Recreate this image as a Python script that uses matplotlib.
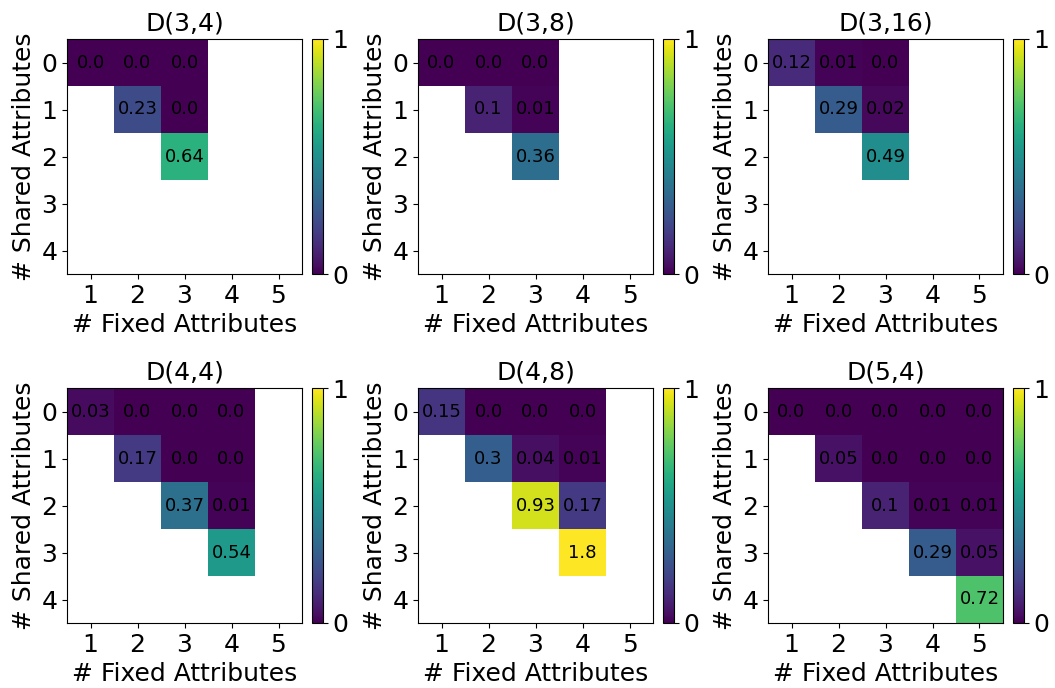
import numpy as np
import matplotlib
matplotlib.use('Agg')
import matplotlib.pyplot as plt

nan = np.nan

titles = ['D(3,4)', 'D(3,8)', 'D(3,16)', 'D(4,4)', 'D(4,8)', 'D(5,4)']
fixed_labels = [1, 2, 3, 4, 5]
shared_labels = [0, 1, 2, 3, 4]

# rows = # shared attributes (0..4), cols = # fixed attributes (1..5)
d_3_4 = [[0.0, 0.0, 0.0, nan, nan],
         [nan, 0.23, 0.0, nan, nan],
         [nan, nan, 0.64, nan, nan],
         [nan, nan, nan, nan, nan],
         [nan, nan, nan, nan, nan]]

d_3_8 = [[0.0, 0.0, 0.0, nan, nan],
         [nan, 0.1, 0.01, nan, nan],
         [nan, nan, 0.36, nan, nan],
         [nan, nan, nan, nan, nan],
         [nan, nan, nan, nan, nan]]

d_3_16 = [[0.12, 0.01, 0.0, nan, nan],
          [nan, 0.29, 0.02, nan, nan],
          [nan, nan, 0.49, nan, nan],
          [nan, nan, nan, nan, nan],
          [nan, nan, nan, nan, nan]]

d_4_4 = [[0.03, 0.0, 0.0, 0.0, nan],
         [nan, 0.17, 0.0, 0.0, nan],
         [nan, nan, 0.37, 0.01, nan],
         [nan, nan, nan, 0.54, nan],
         [nan, nan, nan, nan, nan]]

d_4_8 = [[0.15, 0.0, 0.0, 0.0, nan],
         [nan, 0.3, 0.04, 0.01, nan],
         [nan, nan, 0.93, 0.17, nan],
         [nan, nan, nan, 1.8, nan],
         [nan, nan, nan, nan, nan]]

d_5_4 = [[0.0, 0.0, 0.0, 0.0, 0.0],
         [nan, 0.05, 0.0, 0.0, 0.0],
         [nan, nan, 0.1, 0.01, 0.01],
         [nan, nan, nan, 0.29, 0.05],
         [nan, nan, nan, nan, 0.72]]

grids = [d_3_4, d_3_8, d_3_16, d_4_4, d_4_8, d_5_4]

W, H = 1055, 688
fig = plt.figure(figsize=(W / 100, H / 100), dpi=100)

lefts = [67, 418, 768]
tops = [39, 388]
ax_w, ax_h = 235, 235
cb_gap, cb_w = 10, 11

for i, (grid, title) in enumerate(zip(grids, titles)):
    r, c = divmod(i, 3)
    l, t = lefts[c], tops[r]
    ax = fig.add_axes([l / W, 1 - (t + ax_h) / H, ax_w / W, ax_h / H])
    cax = fig.add_axes([(l + ax_w + cb_gap) / W, 1 - (t + ax_h) / H, cb_w / W, ax_h / H])
    data = np.array(grid, dtype=float)
    im = ax.imshow(data, cmap='viridis', vmin=0, vmax=1, aspect='auto')
    for y in range(data.shape[0]):
        for x in range(data.shape[1]):
            if not np.isnan(data[y, x]):
                ax.text(x, y, str(data[y, x]), ha='center', va='center',
                        fontsize=13, color='black')
    ax.set_xticks(range(5))
    ax.set_xticklabels(fixed_labels)
    ax.set_yticks(range(5))
    ax.set_yticklabels(shared_labels)
    ax.tick_params(labelsize=18)
    ax.set_xlabel('# Fixed Attributes', fontsize=18)
    ax.set_ylabel('# Shared Attributes', fontsize=18)
    ax.set_title(title, fontsize=18)
    cb = fig.colorbar(im, cax=cax, ticks=[0, 1])
    cb.ax.tick_params(labelsize=18)

fig.savefig('out.png', dpi=100)
